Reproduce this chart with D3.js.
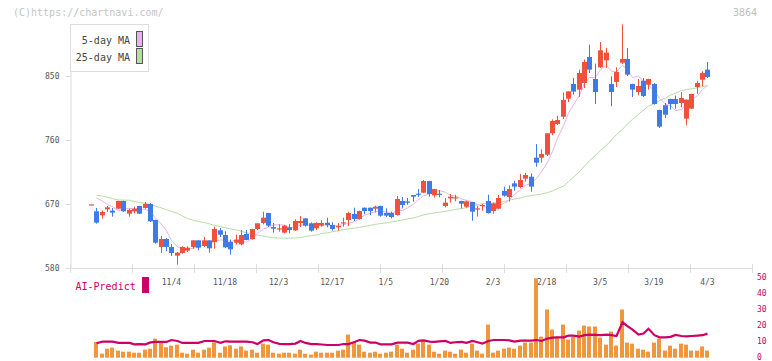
<!DOCTYPE html>
<html><head><meta charset="utf-8">
<script src="https://cdn.jsdelivr.net/npm/d3@7"></script>
<style>body{margin:0;background:#fff}svg{display:block}text{font-family:"DejaVu Sans Mono",monospace}</style>
</head><body><svg id="c" width="772" height="361"></svg>
<script>
// ---- data ----
const open = [669.5,659.7,654.1,662.5,660.6,663.4,674.2,656.4,659.7,667.2,664.4,670.0,647.5,609.6,620.8,609.6,597.4,601.1,604.4,609.6,618.9,610.9,618.9,616.6,633.0,626.4,616.6,615.6,613.3,627.8,620.8,634.8,643.3,657.3,637.6,634.8,629.7,637.2,632.9,643.3,649.8,642.8,635.8,639.5,643.7,640.5,637.2,643.3,647.5,655.9,648.9,664.8,664.8,663.4,667.2,657.3,657.3,654.5,674.2,673.7,682.6,684.5,685.9,702.3,682.2,684.5,667.2,677.9,678.4,674.2,666.2,672.8,662.9,667.6,674.2,660.1,663.4,688.3,679.8,699.0,693.9,705.6,708.4,735.1,735.1,739.3,769.4,782.5,792.8,818.1,838.8,830.8,840.2,876.7,845.8,862.2,872.0,838.8,841.6,868.7,873.9,838.8,827.5,843.4,837.8,838.8,802.2,808.8,817.7,817.7,812.0,790.0,804.1,834.5,844.8,858.9];
const high = [669.5,664.4,661.1,667.2,664.4,674.5,674.5,663.4,666.3,667.5,672.8,671.4,648.0,625.0,622.2,613.8,602.5,610.5,610.5,619.0,619.0,623.6,619.0,638.1,636.3,631.6,619.9,626.9,633.4,633.4,635.0,643.0,659.2,657.5,643.3,641.4,640.5,641.9,648.4,653.1,650.0,644.2,644.2,647.5,650.8,644.2,643.3,650.8,659.2,664.8,660.5,665.0,665.0,667.6,667.5,663.9,659.2,681.2,679.8,678.4,682.6,691.0,703.7,702.5,691.5,689.7,678.4,684.0,683.1,674.5,674.7,673.0,667.6,670.0,683.1,671.8,682.6,694.4,696.2,702.8,712.2,714.0,713.1,754.3,746.8,769.6,789.0,793.7,827.0,828.4,847.2,858.9,873.4,894.1,867.3,897.8,889.4,849.5,862.2,922.5,889.4,839.0,845.8,847.2,846.0,840.2,802.5,812.0,818.0,822.4,827.5,816.9,825.0,843.4,856.6,869.7];
const low = [669.5,642.4,649.4,658.8,652.2,663.0,659.0,652.2,656.9,656.0,663.4,644.7,614.2,601.1,603.4,596.9,584.7,600.2,602.5,607.0,604.9,609.6,601.6,607.2,623.6,608.2,598.8,612.8,611.9,619.0,620.0,633.4,641.4,637.6,629.7,631.1,628.7,628.7,632.0,637.6,638.1,631.1,633.4,638.1,637.2,632.5,632.5,638.1,639.0,646.1,648.0,655.4,654.5,658.3,652.2,651.7,649.8,653.6,663.9,669.0,673.3,679.8,685.5,680.3,678.9,679.4,665.3,671.9,673.7,663.9,664.8,646.5,652.2,660.6,656.4,656.4,662.5,680.3,673.3,688.7,692.0,701.4,687.3,722.5,728.1,737.5,766.5,781.1,789.5,813.4,823.8,820.5,833.1,854.2,810.6,861.3,861.3,807.4,834.5,866.9,850.0,820.5,822.8,820.5,830.8,809.7,776.9,790.9,802.7,804.1,805.9,780.6,803.5,824.7,835.4,847.2];
const close = [669.5,643.8,658.8,665.3,657.8,674.2,659.7,661.6,663.4,656.4,670.0,645.6,615.6,620.8,609.6,601.1,601.6,609.6,608.6,618.9,608.6,618.9,607.7,634.9,626.9,609.1,606.3,619.9,626.4,619.4,634.8,642.8,650.8,639.5,635.3,635.8,639.5,633.4,646.1,646.1,639.5,632.5,643.3,643.3,640.5,634.8,639.0,644.2,657.3,648.9,660.1,660.1,660.1,666.2,653.6,653.6,651.7,677.0,668.6,671.8,680.3,683.6,702.3,684.0,691.0,683.1,671.9,680.3,679.4,670.4,673.7,659.2,663.9,668.6,657.3,670.9,678.4,681.7,691.1,694.4,703.7,710.7,694.4,728.1,740.3,769.4,786.7,788.1,816.2,828.4,828.0,854.2,869.7,858.9,827.5,886.1,882.8,827.5,855.6,873.9,851.9,830.8,835.9,821.9,845.8,810.6,778.8,795.6,810.6,810.6,819.1,816.7,824.7,840.2,854.2,848.6];
const ma5 = [null,678.5,674,669,666.5,660.0,663.2,663.7,663.3,663.1,662.2,659.4,650.2,641.7,632.3,618.5,609.7,608.5,606.1,608.0,609.5,612.9,612.5,617.8,619.4,619.5,617.0,619.4,617.7,616.2,621.4,628.7,634.8,637.5,640.6,640.8,640.2,636.7,638.0,640.2,640.9,639.5,641.5,640.9,639.8,638.9,640.2,640.4,643.2,644.8,649.9,654.1,657.3,659.1,660.0,658.7,657.0,660.4,660.9,664.5,669.9,676.3,681.3,684.4,688.2,688.8,686.5,682.1,681.1,677.0,675.1,672.6,669.3,667.2,664.5,664.0,667.8,671.4,675.9,683.3,689.9,696.3,698.9,706.3,715.4,728.6,743.8,762.5,780.1,797.8,809.5,823.0,839.3,847.8,847.7,859.3,865.0,856.6,855.9,865.2,858.3,847.9,849.6,842.9,837.3,829.0,818.6,810.5,808.3,801.2,802.9,810.5,816.3,822.3,831.0,836.9];
const ma25 = [null,682.5,681,679.5,677.5,675.6,675.5,675.3,673.5,672,671,669.5,667,664.5,662,659.5,657,653,649.5,647,645.5,644,642,640,638.2,636.5,635,633.5,631.5,629.5,628,626,625,623.5,622.5,622,622,622,622.2,622.7,624.5,625.5,626.5,628.5,629.5,631,632.5,634,635,636,637.2,638.5,640,641.5,642.5,643.5,645,646.2,647.5,649,650.5,652.5,654.5,656.5,657.5,658.5,659.5,661,662.5,663.5,665,667,669,670.5,671,671.5,672,673.5,675.5,677,678.5,680.5,682,683,684,686,688.5,691.5,695,701.5,708,715.5,723.5,731,738.5,745.5,752.5,760,767.5,775,782.5,789,796,802,807.5,811.5,815.5,819,823,826,829.5,831,832,833.5,835,836.5];
const volume = [null,9.8,2.5,5.6,6.25,4.4,3.75,3.75,3.1,3.1,5,5.6,11.9,9.8,6.5,7.5,8.1,3.1,2.5,5,3.1,5,6.25,9.6,3.1,7,7.7,5.6,7,4.4,5,3.1,8.75,8.1,3.1,2.5,3.1,3.1,2.5,5,2.5,1.9,3.75,3.1,3.1,3.1,4.4,5,14.4,9.8,8.1,3.75,3.1,3.75,2.5,3.1,3.75,8.1,5.6,3.1,5,8.75,10.2,8.1,3.75,2.5,4.4,3.75,2.5,5,3.1,8.75,4.4,2.5,20.6,3.1,4.4,5.6,6.25,5.6,7.5,9.4,9.4,49.4,13.1,30,17.5,13.1,20.6,11.25,13.1,16.9,20,19.4,19.4,12.5,8.1,16.25,7.5,30,9.4,8.75,5.6,5,3.75,9.4,11.9,4.4,7.5,5.6,8.75,8.1,4.4,4.4,7,4.4];
const predict = [null,9,10,10,10,9.2,9.2,9.2,8.3,8.5,8.3,9.5,9.8,9.8,9.8,11,10.4,9.2,9.2,9.2,9.2,10.4,10.4,10.4,9.2,10.2,10,10,10,10,9.6,8.5,10.8,11,9.6,8.6,8.5,8.5,8.8,10.4,9.2,8.5,8.5,8.2,7.9,7.9,7.9,8.5,8.5,9.8,11,10.6,9.4,9.4,8.3,8.3,8.3,9.4,9.4,9.4,8.5,10.5,10.8,10,9.8,10.2,10.4,9.2,9.6,9.8,9.2,10.4,9.6,8.75,10.4,11,11,11,10.8,10,10.6,10.6,10.6,11,10.4,11.9,12.5,12.7,12.7,13.75,13.75,13.1,14,14.4,14.2,14,14.4,14,13.5,22,19.6,17.5,14.4,15,18,14,12.7,12.7,13,14.2,13.5,13.3,13.5,13.75,14,15];
const dateLabels = ["11/4","11/18","12/3","12/17","1/5","1/20","2/3","2/18","3/5","3/19","4/3"];
const dateIndex = [15,25,35,45,55,65,75,85,95,105,115];
const priceTicks = [580,670,760,850];
const volTicks = [0,10,20,30,40,50];
const gridTicks = [0,1,2,3,4,5,6,7,8,9,10,11];
const legendLabels = ["5-day MA","25-day MA"];

// ---- drawing ----
const svg = d3.select('#c');
const n = close.length;
const RED = "#f0503c", BLUE = "#3f7be6", PINK = "#e9b2ea", GREEN = "#b6dca6";
const CRIMSON = "#cc0066", ORANGE = "#f0963c", AXIS = "#dddddd", LBL = "#555";

const x = d3.scaleLinear().domain([0, n - 1]).range([91, 707.4]);
const y = d3.scaleLinear().domain([580, 923.1]).range([268, 24]);
const yv = d3.scaleLinear().domain([0, 50]).range([357.7, 277.3]);
const xg = d3.scaleLinear().domain([0, 11]).range([70, 752]);
const px = i => Math.round(x(i));

// header texts
svg.append("text").attr("x", 13).attr("y", 16).attr("font-size", 10).attr("fill", "#c4c4c4").text("(C)https://chartnavi.com/");
svg.append("text").attr("x", 757).attr("y", 16).attr("text-anchor", "end").attr("font-size", 10).attr("fill", "#bdbdbd").text("3864");

// y axis
const ya = svg.append("g").attr("transform", "translate(70.5,0)")
  .call(d3.axisLeft(y).tickValues(priceTicks).tickSize(5).tickSizeOuter(0).tickPadding(6));
ya.select(".domain").attr("stroke", AXIS);
ya.selectAll(".tick line").attr("stroke", AXIS);
ya.selectAll(".tick text").attr("fill", LBL).attr("font-size", 8).attr("font-family", '"DejaVu Sans Mono",monospace');

// x axis line + grid ticks
svg.append("line").attr("x1", 70).attr("x2", 753).attr("y1", 268.5).attr("y2", 268.5).attr("stroke", AXIS);
svg.append("g").selectAll("line").data(gridTicks).join("line")
  .attr("x1", d => Math.round(xg(d)) + 0.5).attr("x2", d => Math.round(xg(d)) + 0.5)
  .attr("y1", 264).attr("y2", 273).attr("stroke", AXIS);

// date labels
svg.append("g").selectAll("text").data(dateLabels).join("text")
  .attr("x", (d, k) => x(dateIndex[k])).attr("y", 285).attr("text-anchor", "middle")
  .attr("font-size", 8).attr("fill", LBL).text(d => d);

// moving averages
const idx = d3.range(n);
const maLine = arr => d3.line().defined(i => arr[i] != null).x(i => px(i) + 0.5).y(i => y(arr[i]))(idx);
svg.append("path").attr("d", maLine(ma25)).attr("fill", "none").attr("stroke", GREEN).attr("stroke-width", 1);
svg.append("path").attr("d", maLine(ma5)).attr("fill", "none").attr("stroke", PINK).attr("stroke-width", 1);

// candles
const cg = svg.append("g");
idx.forEach(i => {
  const up = close[i] >= open[i];
  const col = up ? RED : BLUE;
  cg.append("line").attr("x1", px(i) + 0.5).attr("x2", px(i) + 0.5)
    .attr("y1", y(high[i])).attr("y2", y(low[i])).attr("stroke", col).attr("stroke-width", 1);
  const top = y(Math.max(open[i], close[i])), bot = y(Math.min(open[i], close[i]));
  cg.append("rect").attr("x", px(i) - 2).attr("width", 5)
    .attr("y", top).attr("height", Math.max(1.2, bot - top)).attr("fill", col);
});

// legend
const lg = svg.append("g");
lg.append("rect").attr("x", 70.5).attr("y", 24.5).attr("width", 78).attr("height", 47).attr("fill", "#fff").attr("stroke", AXIS);
lg.selectAll("text").data(legendLabels).join("text")
  .attr("x", 130).attr("y", (d, k) => 44 + k * 17).attr("text-anchor", "end")
  .attr("font-size", 10).attr("fill", "#444").text(d => d);
lg.selectAll("rect.sw").data([PINK, GREEN]).join("rect").attr("class", "sw")
  .attr("x", 136.5).attr("y", (d, k) => 31.5 + k * 17).attr("width", 6).attr("height", 15)
  .attr("fill", d => d).attr("stroke", "#555");

// lower panel: bars + line
svg.append("g").selectAll("rect").data(idx.filter(i => volume[i] != null)).join("rect")
  .attr("x", i => px(i) - 2).attr("width", 4)
  .attr("y", i => yv(volume[i])).attr("height", i => yv(0) - yv(volume[i])).attr("fill", ORANGE);
svg.append("path")
  .attr("d", d3.line().defined(i => predict[i] != null).x(i => px(i) + 0.5).y(i => yv(predict[i]))(idx))
  .attr("fill", "none").attr("stroke", CRIMSON).attr("stroke-width", 2.2);

// right axis
const ra = svg.append("g").attr("transform", "translate(754,0)")
  .call(d3.axisRight(yv).tickValues(volTicks).tickSize(0).tickPadding(3));
ra.select(".domain").remove();
ra.selectAll(".tick text").attr("fill", CRIMSON).attr("font-size", 8).attr("dy", "0.22em")
  .attr("font-family", '"DejaVu Sans Mono",monospace');

// AI-Predict label
svg.append("text").attr("x", 75.5).attr("y", 290).attr("font-size", 10).attr("fill", CRIMSON).text("AI-Predict");
svg.append("rect").attr("x", 142).attr("y", 277).attr("width", 7).attr("height", 16).attr("fill", CRIMSON);
</script></body></html>
